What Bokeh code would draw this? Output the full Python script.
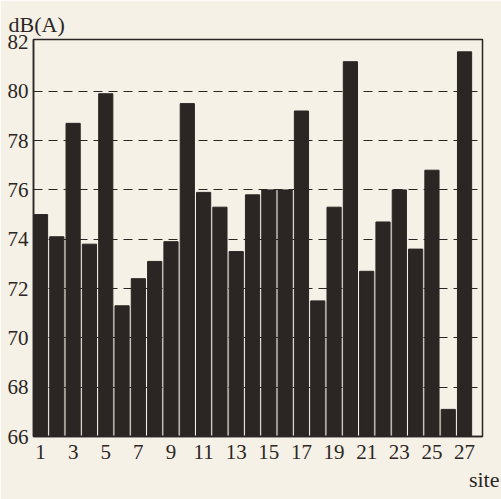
from bokeh.plotting import figure
from bokeh.models import FixedTicker, Range1d, Title
from bokeh.embed import file_html
from bokeh.resources import INLINE

sites = list(range(1, 28))
levels = [75.0, 74.1, 78.7, 73.8, 79.9, 71.3, 72.4, 73.1, 73.9, 79.5,
          75.9, 75.3, 73.5, 75.8, 76.0, 76.0, 79.2, 71.5, 75.3, 81.2,
          72.7, 74.7, 76.0, 73.6, 76.8, 67.1, 81.6]
y_ticks = [66, 68, 70, 72, 74, 76, 78, 80, 82]
grid_levels = [68, 70, 72, 74, 76, 78, 80]
x_ticks = list(range(1, 28, 2))

BG = "#f5f1e6"
INK = "#2b2624"
FONT = "Liberation Serif"

p = figure(width=501, height=499, output_backend="svg", toolbar_location=None,
           x_range=Range1d(0.57, 28.1), y_range=Range1d(66, 82.1),
           min_border_left=33, min_border_right=19, min_border_top=39,
           min_border_bottom=63, background_fill_color=BG, border_fill_color=BG)

p.vbar(x=sites, top=levels, bottom=66, width=0.87, fill_color=INK, line_color=INK)

p.xgrid.visible = False
p.ygrid.ticker = FixedTicker(ticks=grid_levels)
p.ygrid.grid_line_color = INK
p.ygrid.grid_line_dash = "9 6"
p.ygrid.grid_line_width = 1.2

p.outline_line_color = INK
p.outline_line_width = 1.5

for ax in (p.xaxis[0], p.yaxis[0]):
    ax.major_tick_line_color = None
    ax.minor_tick_line_color = None
    ax.major_tick_out = 0
    ax.major_tick_in = 0
    ax.axis_line_color = INK
    ax.axis_line_width = 1.5
    ax.major_label_text_font = FONT
    ax.major_label_text_color = INK

p.yaxis.ticker = FixedTicker(ticks=y_ticks)
p.yaxis.major_label_text_font_size = "21px"
p.yaxis.major_label_standoff = 5
p.xaxis.ticker = FixedTicker(ticks=x_ticks)
p.xaxis.major_label_text_font_size = "21px"
p.xaxis.major_label_standoff = 8

t = Title(text="dB(A)", align="left", text_font=FONT, text_font_size="22px",
          text_font_style="normal", text_color=INK, offset=-25, standoff=6)
p.add_layout(t, "above")
s = Title(text="site", align="right", text_font=FONT, text_font_size="22px",
          text_font_style="normal", text_color=INK, offset=-17, standoff=6)
p.add_layout(s, "below")

open("out.html", "w").write(file_html(p, INLINE))
